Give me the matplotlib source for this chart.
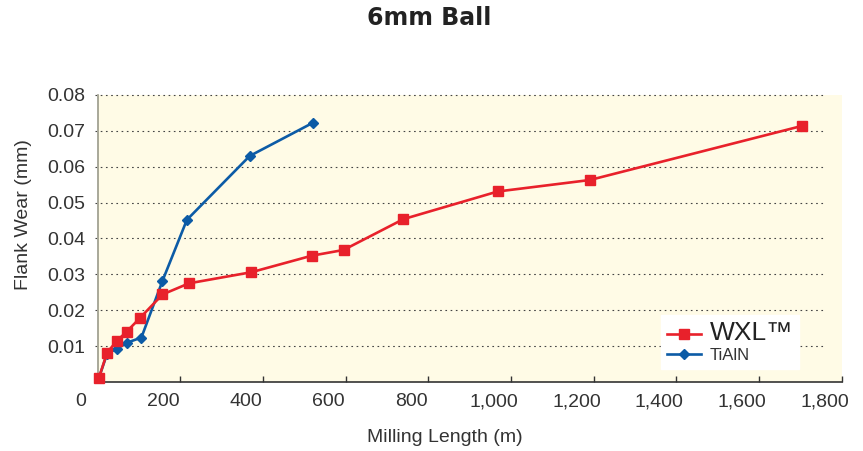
import matplotlib
matplotlib.use("Agg")
import matplotlib.pyplot as plt
import matplotlib.transforms as mtransforms
from matplotlib import rcParams

rcParams['font.family'] = 'Liberation Sans'

# data
wxl_length = [3, 23, 47, 70, 103, 157, 221, 372, 518, 595, 740, 968, 1191, 1705]
wxl_wear = [0.0011, 0.0082, 0.0115, 0.0140, 0.0179, 0.0244, 0.0275, 0.0306,
            0.0352, 0.0368, 0.0454, 0.0531, 0.0563, 0.0714]
tialn_length = [3, 23, 47, 70, 106, 157, 216, 368, 520]
tialn_wear = [0.0011, 0.0079, 0.0093, 0.0109, 0.0124, 0.0282, 0.0452, 0.0630, 0.0722]

x_ticks = [0, 200, 400, 600, 800, 1000, 1200, 1400, 1600, 1800]
x_tick_labels = ['0', '200', '400', '600', '800', '1,000', '1,200', '1,400', '1,600', '1,800']
y_ticks = [0.01, 0.02, 0.03, 0.04, 0.05, 0.06, 0.07, 0.08]
y_tick_labels = ['0.01', '0.02', '0.03', '0.04', '0.05', '0.06', '0.07', '0.08']

red = '#e8212b'
blue = '#0c5ba6'
tick_font_size = 14

fig = plt.figure(figsize=(8.63, 4.51), dpi=100)
ax = fig.add_axes([0.1131, 0.153, 0.8621, 0.6364])
ax.set_facecolor('#fffbe6')

for y in y_ticks:
    ax.axhline(y, xmin=-0.003, xmax=0.978, color='#444444', lw=0.8,
               linestyle=(0, (1.5, 3.2)), zorder=1, clip_on=False)

ax.plot(wxl_length, wxl_wear, color=red, lw=1.9, marker='s', markersize=6.5,
        label='WXL\u2122', zorder=3, clip_on=False)
ax.plot(tialn_length, tialn_wear, color=blue, lw=1.9, marker='D', markersize=4.8,
        label='TiAlN', zorder=2, clip_on=False)

ax.set_xlim(0, 1800)
ax.set_ylim(0, 0.08)
ax.set_xticks(x_ticks)
ax.set_xticklabels(x_tick_labels, fontsize=tick_font_size, color='#333333')
ax.set_yticks(y_ticks)
ax.set_yticklabels(y_tick_labels, fontsize=tick_font_size, color='#333333')
ax.tick_params(axis='x', direction='in', length=4, width=1, color='#333333', pad=8)
ax.tick_params(axis='y', direction='out', length=0, pad=9)

# x tick labels sit a bit left of their ticks in the original
shift = mtransforms.ScaledTranslation(-0.17, 0, fig.dpi_scale_trans)
for lbl in ax.get_xticklabels():
    lbl.set_transform(lbl.get_transform() + shift)

for s in ['top', 'right']:
    ax.spines[s].set_visible(False)
ax.spines['left'].set_color('#9a9a8a')
ax.spines['left'].set_linewidth(1.2)
ax.spines['bottom'].set_color('#333333')
ax.spines['bottom'].set_linewidth(1.2)

ax.set_xlabel('Milling Length (m)', fontsize=14, color='#333333')
ax.xaxis.set_label_coords(0.467, -0.163)
ax.set_ylabel('Flank Wear (mm)', fontsize=14, color='#333333')
ax.yaxis.set_label_coords(-0.088, 0.585)

fig.text(0.497, 0.961, '6mm Ball', fontsize=17, fontweight='bold',
         family='DejaVu Sans', ha='center', va='center', color='#222222')

leg = ax.legend(loc='upper left', bbox_to_anchor=(0.757, 0.233), fontsize=12,
                frameon=True, fancybox=False, framealpha=1, edgecolor='white',
                facecolor='white', handlelength=2.05, handletextpad=0.55,
                borderpad=0.35, labelspacing=0.2, borderaxespad=0)
leg.get_texts()[0].set_fontsize(19)
leg.get_texts()[0].set_color('#222222')
leg.get_texts()[1].set_color('#333333')

fig.savefig('out.png', dpi=100)
